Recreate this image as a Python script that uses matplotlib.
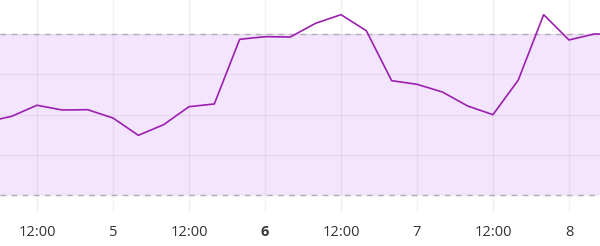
import matplotlib
matplotlib.use("Agg")
import matplotlib.pyplot as plt

# time in hours since day 4, 00:00
hours = [4, 8, 12, 16, 20, 24, 28, 32, 36, 40, 44, 48, 52, 56, 60, 64, 68,
         72, 76, 80, 84, 88, 92, 96, 100, 104]
values = [9.09, 9.80, 11.17, 10.58, 10.62, 9.59, 7.44, 8.76, 10.99, 11.33,
          19.35, 19.68, 19.64, 21.34, 22.41, 20.42, 14.22, 13.77, 12.82,
          11.08, 10.00, 14.30, 22.41, 19.27, 20.01, 20.00]
band_low, band_high = 0, 20
tick_hours = [12, 24, 36, 48, 60, 72, 84, 96]
tick_labels = ["12:00", "5", "12:00", "6", "12:00", "7", "12:00", "8"]
bold_label = "6"

plt.rcParams['font.family'] = ['Open Sans', 'DejaVu Sans']

fig = plt.figure(figsize=(6, 2.46), dpi=100)
ax = fig.add_axes([0, 33 / 246, 1, 213 / 246])

ax.set_xlim(6.16, 100.9)
ax.set_ylim(-2.2, 24.23)

ax.axhspan(band_low, band_high, color='#f3e5fd', zorder=0, lw=0)
ax.set_yticks([0, 5, 10, 15, 20])
ax.set_xticks(tick_hours)
ax.set_xticklabels(tick_labels)
for lbl in ax.get_xticklabels():
    if lbl.get_text() == bold_label:
        lbl.set_fontweight('bold')
ax.grid(True, color='black', alpha=0.055, lw=1, zorder=1)
for yv in (band_low, band_high):
    ax.axhline(yv, color='#b4aab8', lw=1, dashes=(4, 4), zorder=2)

ax.plot(hours, values, color='#9c1fb0', lw=1.2, zorder=3, clip_on=True)

ax.tick_params(axis='x', length=0, pad=9, labelsize=10.5, labelcolor='#333333')
ax.tick_params(axis='y', length=0, labelleft=False)
for s in ax.spines.values():
    s.set_visible(False)

fig.savefig("out.png", dpi=100)
